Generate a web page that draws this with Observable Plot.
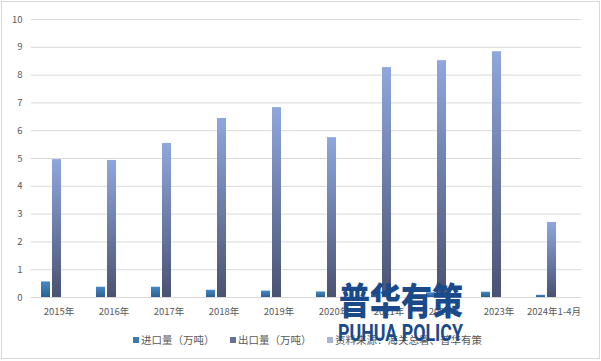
<!DOCTYPE html>
<html><head><meta charset="utf-8">
<script src="https://cdn.jsdelivr.net/npm/d3@7"></script>
<script src="https://cdn.jsdelivr.net/npm/@observablehq/plot@0.6"></script>
<style>
body{margin:0;background:#fff;font-family:"Noto Sans CJK SC","Noto Sans",sans-serif;}
#wrap{position:relative;width:601px;height:361px;overflow:hidden;background:#fff;}
#border{position:absolute;left:1px;top:1px;width:597px;height:356px;border:1px solid #d9d9d9;}
#chart{position:absolute;left:0;top:0;}
.leg{position:absolute;top:333px;font-size:10.5px;color:#595959;white-space:nowrap;line-height:14px;}
.leg i{display:inline-block;width:6px;height:6px;margin-right:2px;vertical-align:1px;}
.wm1{position:absolute;left:339px;top:279px;font-size:31px;font-weight:900;color:#1b4a8a;letter-spacing:0px;line-height:40px;transform-origin:0 50%;transform:scaleY(1.2);}
.wm2{position:absolute;left:338px;top:321px;font-size:23px;font-weight:700;color:#1b4a8a;line-height:26px;font-family:"Liberation Sans Narrow","Roboto","Noto Sans",sans-serif;transform-origin:0 0;}
</style></head>
<body><div id="wrap"><div id="border"></div><div id="chart"></div></div>
<script>
const years = ["2015年","2016年","2017年","2018年","2019年","2020年","2021年","2022年","2023年","2024年1-4月"];
const importVals = [0.56,0.37,0.37,0.26,0.23,0.20,0.15,0.17,0.19,0.08];
const exportVals = [4.96,4.93,5.54,6.44,6.83,5.75,8.27,8.52,8.84,2.70];
const seriesNames = ["进口量（万吨）","出口量（万吨）","资料来源：海关总署、普华有策"];
const yTicks = [0,1,2,3,4,5,6,7,8,9,10];

const imports = years.map((y,i)=>({year:y, series:seriesNames[0], value:importVals[i]}));
const exportsD = years.map((y,i)=>({year:y, series:seriesNames[1], value:exportVals[i]}));

const svg = Plot.plot({
  width:601, height:326,
  marginTop:19, marginBottom:29, marginLeft:30, marginRight:19,
  style:{fontFamily:'"Noto Sans CJK SC","Noto Sans",sans-serif', fontSize:"9.5px", color:"#595959", background:"transparent"},
  fx:{domain:years, padding:0, label:null},
  x:{domain:seriesNames, paddingInner:0.17, paddingOuter:0.95, align:0.4, axis:null},
  y:{domain:[0,10], label:null},
  marks:[
    Plot.ruleY(yTicks, {stroke:"#d9d9d9", strokeWidth:1}),
    Plot.barY(imports, {fx:"year", x:"series", y:"value", fill:"url(#gImp)"}),
    Plot.barY(exportsD, {fx:"year", x:"series", y:"value", fill:"url(#gExp)"}),
    Plot.axisY(yTicks, {tickSize:0, tickPadding:9, label:null, fill:"#595959"}),
    Plot.axisFx({anchor:"bottom", tickSize:0, tickPadding:11, label:null, fill:"#595959"})
  ]
});
svg.insertAdjacentHTML("afterbegin",
 '<defs><linearGradient id="gImp" x1="0" y1="0" x2="0" y2="1"><stop offset="0" stop-color="#4689c8"/><stop offset="1" stop-color="#2c5f92"/></linearGradient>'+
 '<linearGradient id="gExp" x1="0" y1="0" x2="0" y2="1"><stop offset="0" stop-color="#8fa7de"/><stop offset="1" stop-color="#4a5272"/></linearGradient></defs>');
document.getElementById("chart").appendChild(svg);

const wrap = document.getElementById("wrap");
const legPos = [133,230,327];
const legCol = ["#3a79b8","#66729a","#a8b4da"];
seriesNames.forEach((s,i)=>{
  const d = document.createElement("div");
  d.className="leg"; d.style.left=legPos[i]+"px";
  d.innerHTML = '<i style="background:'+legCol[i]+'"></i>'+s;
  wrap.appendChild(d);
});
const w1 = document.createElement("div"); w1.className="wm1"; w1.textContent="普华有策"; wrap.appendChild(w1);
const w2 = document.createElement("div"); w2.className="wm2"; w2.textContent="PUHUA POLICY"; wrap.appendChild(w2);
const bw = w2.getBoundingClientRect().width;
w2.style.transform = "scaleX(" + (125/bw) + ")";
</script></body></html>
